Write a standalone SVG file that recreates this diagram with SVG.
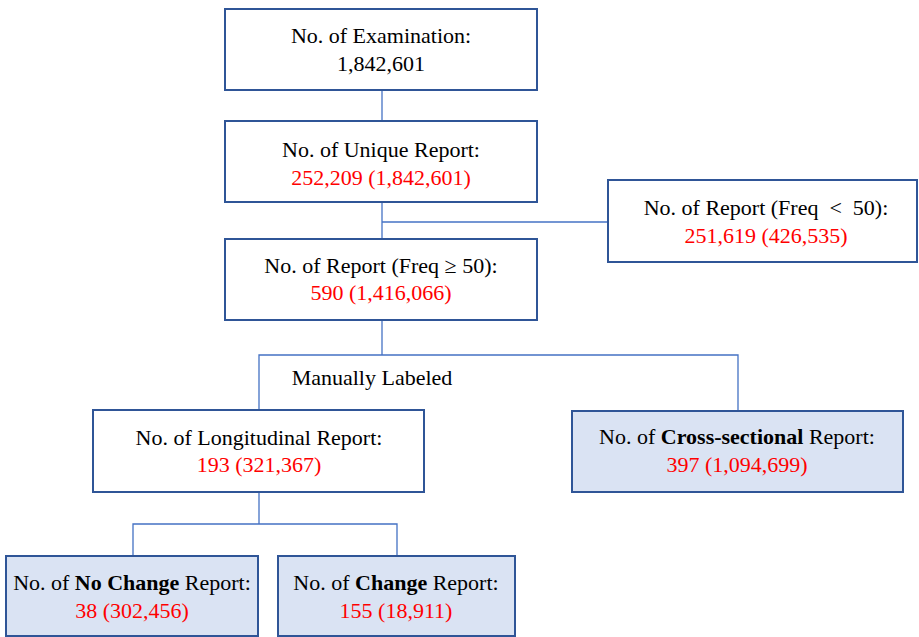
<svg xmlns="http://www.w3.org/2000/svg" width="919" height="637" viewBox="0 0 919 637">
<style>
.box{fill:#ffffff;stroke:#2f5597;stroke-width:2}
.shaded{fill:#dae3f3;stroke:#2f5597;stroke-width:2}
.conn{fill:none;stroke:#4472c4;stroke-width:1.3}
.t{font-size:22px;fill:#000;text-anchor:middle}
.red{fill:#ff0000}
.b{font-weight:bold}
</style>
<rect width="919" height="637" fill="#ffffff"/>
<g id="connectors">
<path class="conn" d="M382,90V121"/>
<path class="conn" d="M382,202V239"/>
<path class="conn" d="M382,222H608"/>
<path class="conn" d="M382,320V355"/>
<path class="conn" d="M259,410V355H738V411"/>
<path class="conn" d="M259,492V524"/>
<path class="conn" d="M133,556V524H397V556"/>
</g>
<g font-family="Liberation Serif, Times New Roman, serif">
<g id="examination">
<rect class="box" x="225" y="9" width="312" height="81"/>
<text class="t" x="381" y="43">No. of Examination:</text>
<text class="t" x="381" y="71">1,842,601</text>
</g>
<g id="unique">
<rect class="box" x="225" y="121" width="312" height="81"/>
<text class="t" x="381" y="157">No. of Unique Report:</text>
<text class="t red" x="381" y="185">252,209 (1,842,601)</text>
</g>
<g id="freq-ge-50">
<rect class="box" x="225" y="239" width="312" height="81"/>
<text class="t" x="381" y="273">No. of Report (Freq ≥ 50):</text>
<text class="t red" x="381" y="300">590 (1,416,066)</text>
</g>
<g id="freq-lt-50">
<rect class="box" x="608" y="180" width="309" height="82"/>
<text class="t" x="766" y="215" xml:space="preserve">No. of Report (Freq  &lt;  50):</text>
<text class="t red" x="766" y="243">251,619 (426,535)</text>
</g>
<g id="label">
<text class="t" x="372" y="385">Manually Labeled</text>
</g>
<g id="longitudinal">
<rect class="box" x="93" y="410" width="331" height="82"/>
<text class="t" x="259" y="445">No. of Longitudinal Report:</text>
<text class="t red" x="259" y="472">193 (321,367)</text>
</g>
<g id="cross-sectional">
<rect class="shaded" x="572" y="411" width="331" height="81"/>
<text class="t" x="737" y="444">No. of <tspan class="b">Cross-sectional</tspan> Report:</text>
<text class="t red" x="737" y="472">397 (1,094,699)</text>
</g>
<g id="no-change">
<rect class="shaded" x="6" y="556" width="252" height="80"/>
<text class="t" x="132" y="590">No. of <tspan class="b">No Change</tspan> Report:</text>
<text class="t red" x="132" y="618">38 (302,456)</text>
</g>
<g id="change">
<rect class="shaded" x="278" y="556" width="237" height="80"/>
<text class="t" x="396" y="590">No. of <tspan class="b">Change</tspan> Report:</text>
<text class="t red" x="396" y="618">155 (18,911)</text>
</g>
</g>
</svg>
